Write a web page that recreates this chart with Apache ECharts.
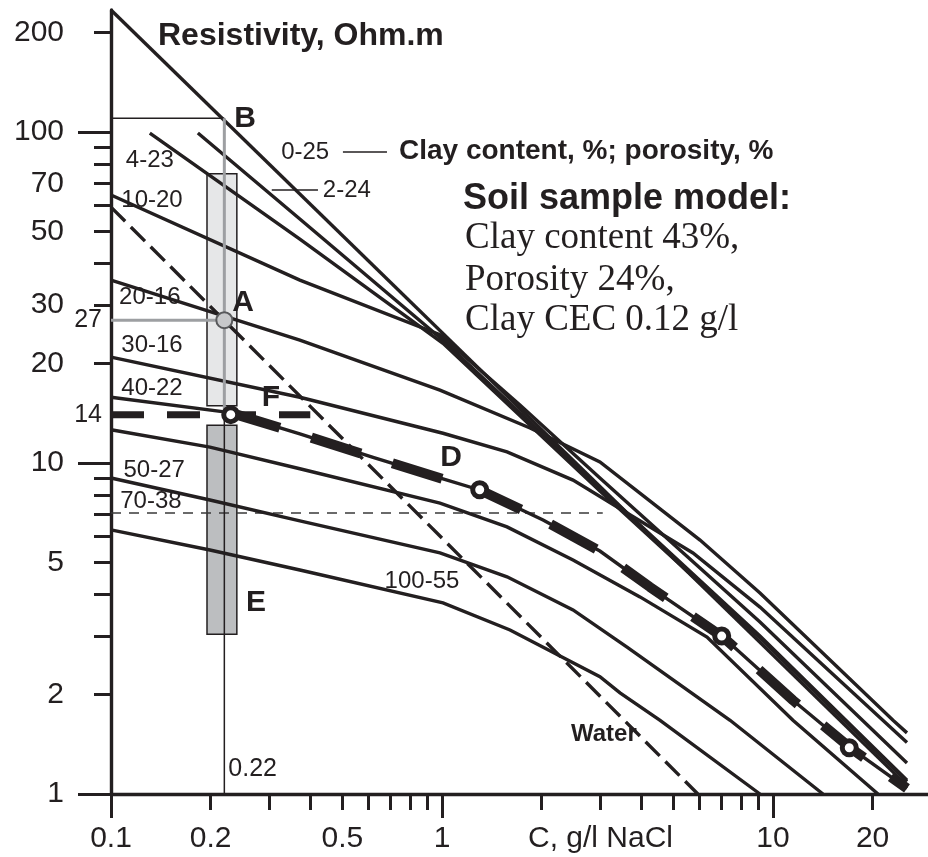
<!DOCTYPE html>
<html><head><meta charset="utf-8">
<script src="https://cdn.jsdelivr.net/npm/echarts@6/dist/echarts.min.js"></script>
<style>html,body{margin:0;padding:0;background:#fff}#c{width:928px;height:857px}</style>
</head><body><div id="c"></div>
<script>
// ---------- axis ticks / labels ----------
const yTickMajor = [1, 10, 100];
const yTickMinor = [2, 3, 4, 5, 6, 7, 8, 9, 20, 30, 40, 50, 60, 70, 80, 90, 200];
const yTickLabels = [1, 2, 5, 10, 20, 30, 50, 70, 100, 200];
const yMarkLabels = [14, 27];
const xTickMajor = [0.1, 1, 10];
const xTickMinor = [0.2, 0.3, 0.4, 0.5, 0.6, 0.7, 0.8, 0.9, 2, 3, 4, 5, 6, 7, 8, 9, 20];
const xTickLabels = [0.1, 0.2, 0.5, 1, 10, 20];

// ---------- curves: [C g/l, Resistivity Ohm.m] ----------
const curve_0_25 = [[0.1, 233.7], [25.4, 1.06]];
const curve_2_24 = [[0.183, 99.3], [0.372, 54.6], [1.007, 23.5], [3.0, 8.40], [9.135, 3.00], [25.4, 1.10]];
const curve_4_23 = [[0.131, 99.3], [0.372, 47.5], [1.007, 23.0], [3.0, 8.23], [9.135, 2.96], [25.4, 1.09]];
const curve_10_20 = [[0.1, 64.5], [0.372, 35.7], [0.986, 24.4], [1.72, 14.97], [3.0, 9.01], [9.135, 3.31], [25.4, 1.24]];
const curve_20_16 = [[0.1, 35.7], [0.372, 23.5], [0.986, 16.6], [1.845, 12.76], [3.0, 10.07], [6.02, 5.85], [9.135, 4.05], [23.05, 1.67], [25.4, 1.53]];
const curve_30_16 = [[0.1, 20.9], [0.372, 15.8], [1.007, 12.3], [1.572, 10.8], [2.488, 8.88], [3.623, 7.06], [5.731, 5.35], [9.135, 3.67], [25.4, 1.43]];
const curve_40_22 = [[0.1, 15.8], [0.229, 14.2], [0.372, 12.24], [0.619, 10.4], [1.007, 8.95], [1.30, 8.29], [2.02, 6.73], [3.0, 5.42], [4.25, 4.22], [7.06, 2.98], [11.49, 1.92], [17.1, 1.38], [25.4, 1.04]];
const curve_50_27 = [[0.1, 12.6], [0.199, 11.17], [0.372, 9.61], [0.986, 7.57], [1.572, 6.41], [2.488, 5.09], [3.964, 3.94], [6.319, 2.98], [11.49, 1.67], [20.76, 1.0]];
const curve_70_38 = [[0.1, 9.01], [0.199, 7.73], [0.372, 6.69], [0.986, 5.35], [1.572, 4.53], [2.488, 3.60], [3.623, 2.78], [7.42, 1.67], [14.16, 1.0]];
const curve_100_55 = [[0.1, 6.28], [0.199, 5.46], [0.372, 4.75], [1.007, 3.78], [1.605, 3.13], [3.0, 2.26], [3.45, 2.02], [4.56, 1.67], [9.135, 1.0]];
const waterLine = [[0.1, 59.3], [5.93, 1.0]];

// soil sample model (thick dashed)
const modelFlat = [[0.1, 14], [0.4, 14]];
const modelCurve = [[0.229, 14.2], [0.372, 12.24], [0.619, 10.4], [1.007, 8.95], [1.30, 8.29], [2.02, 6.73], [3.0, 5.42], [4.25, 4.22], [7.06, 2.98], [11.49, 1.92], [17.1, 1.38], [25.4, 1.04]];
const modelPoints = [[0.23, 14], [1.3, 8.3], [7.0, 3.0], [17.0, 1.38]];
const pointA = [[0.22, 27]];

// construction lines
const lineB = [[0.1, 110], [0.22, 110]];
const lineGrayV = [[0.22, 110], [0.22, 14]];
const lineBlackV = [[0.22, 14], [0.22, 1]];
const lineGrayH = [[0.1, 27], [0.22, 27]];
const line7 = [[0.1, 7.06], [3.06, 7.06]];
const leader0_25 = [[0.502, 87], [0.682, 87]];
const leader2_24 = [[0.306, 66.8], [0.422, 66.8]];

// boxes [C0, R0, C1, R1]
const boxLight = [[0.195, 74.8, 0.24, 14.9]];
const boxDark = [[0.195, 13.0, 0.24, 3.04]];

// labels
const curveLabelText = ['0-25', '2-24', '4-23', '10-20', '20-16', '30-16', '40-22', '50-27', '70-38', '100-55'];
const curveLabelAt = [[0.386, 87.0], [0.516, 66.8], [0.131, 82.3], [0.133, 62.3], [0.131, 31.7], [0.133, 22.7], [0.133, 16.85], [0.135, 9.52], [0.132, 7.68], [0.870, 4.40]];
const letterText = ['A', 'B', 'D', 'E', 'F'];
const letterAt = [[0.2505, 30.4], [0.254, 109.5], [1.065, 10.35], [0.274, 3.78], [0.304, 15.8]];
const waterLabel = {text: 'Water', at: [2.386, 1.51]};
const cLabel = {text: '0.22', at: [0.22, 1.19]};

// ---------- chart ----------
const INK = '#231f20';
const SANS = '"Liberation Sans", Arial, sans-serif';
const SERIF = '"Liberation Serif", "Times New Roman", serif';
const chart = echarts.init(document.getElementById('c'), null, {renderer: 'canvas'});

function logX(extra) {
  return Object.assign({type: 'log', min: 0.1, max: 29.4, position: 'bottom', splitLine: {show: false}, minorTick: {show: false}}, extra);
}
function logY(extra) {
  return Object.assign({type: 'log', min: 1, max: 233.7, position: 'left', splitLine: {show: false}, minorTick: {show: false}}, extra);
}
function solid(data, w, color, z) {
  return {type: 'line', data: data, showSymbol: false, symbol: 'none', silent: true, z: z || 3,
    lineStyle: {color: color || INK, width: w || 3.4, cap: 'butt', join: 'miter', opacity: 1}};
}
function dashed(data, w, dash, color, z) {
  return {type: 'line', data: data, showSymbol: false, symbol: 'none', silent: true, z: z || 4,
    lineStyle: {color: color || INK, width: w, type: dash, cap: 'butt', opacity: 1}};
}
function boxSeries(data, fill) {
  return {type: 'custom', data: data, silent: true, z: 1, encode: {x: [0, 2], y: [1, 3]},
    renderItem: function (params, api) {
      const p0 = api.coord([api.value(0), api.value(1)]);
      const p1 = api.coord([api.value(2), api.value(3)]);
      return {type: 'rect', shape: {x: p0[0], y: p0[1], width: p1[0] - p0[0], height: p1[1] - p0[1]},
        style: {fill: fill, stroke: INK, lineWidth: 1.5}};
    }};
}
function textSeries(names, coords, size, weight, pos) {
  return {type: 'scatter', symbolSize: 0, silent: true, z: 6,
    itemStyle: {opacity: 1},
    data: names.map((n, i) => ({name: n, value: coords[i]})),
    label: {show: true, formatter: '{b}', position: pos || 'inside', distance: 4, color: INK, opacity: 1,
      fontSize: size, fontWeight: weight || 'normal', fontFamily: SANS}};
}

const option = {
  animation: false,
  backgroundColor: '#fff',
  grid: {left: 111, right: 0, top: 10, bottom: 63, containLabel: false, outerBoundsMode: 'none'},
  xAxis: [
    logX({axisLine: {show: true, lineStyle: {color: INK, width: 3.4}},
      axisTick: {show: true, customValues: xTickMajor, length: 24, lineStyle: {color: INK, width: 3}},
      axisLabel: {show: true, customValues: xTickLabels, formatter: v => String(v), fontSize: 30, color: INK,
        fontFamily: SANS, margin: 45, verticalAlign: 'middle'}}),
    logX({axisLine: {show: false},
      axisTick: {show: true, customValues: xTickMinor, length: 16, lineStyle: {color: INK, width: 3}},
      axisLabel: {show: false}})
  ],
  yAxis: [
    logY({axisLine: {show: true, lineStyle: {color: INK, width: 3.4}},
      axisTick: {show: true, customValues: yTickMajor, length: 33, lineStyle: {color: INK, width: 3}},
      axisLabel: {show: true, customValues: yTickLabels, formatter: v => String(v), fontSize: 30, color: INK,
        fontFamily: SANS, margin: 47}}),
    logY({axisLine: {show: false},
      axisTick: {show: true, customValues: yTickMinor, length: 17, lineStyle: {color: INK, width: 3}},
      axisLabel: {show: false}}),
    logY({axisLine: {show: false}, axisTick: {show: false},
      axisLabel: {show: true, customValues: yMarkLabels, formatter: v => String(v), fontSize: 25, color: INK,
        fontFamily: SANS, margin: 9}})
  ],
  series: [
    boxSeries(boxLight, '#e6e7e8'),
    boxSeries(boxDark, '#bcbec0'),
    solid(lineB, 1.5, INK, 2),
    dashed(line7, 1.5, [10, 8], '#3a3a3a', 2),
    solid(curve_0_25), solid(curve_2_24), solid(curve_4_23), solid(curve_10_20), solid(curve_20_16),
    solid(curve_30_16), solid(curve_40_22), solid(curve_50_27), solid(curve_70_38), solid(curve_100_55),
    dashed(waterLine, 3.4, [20, 8], INK, 3),
    solid(lineBlackV, 1.5, INK, 3),
    solid(lineGrayV, 3, '#9d9fa2', 3),
    solid(lineGrayH, 3, '#9d9fa2', 3),
    solid(leader0_25, 1.5), solid(leader2_24, 1.5),
    dashed(modelFlat, 7, [33, 23], INK, 4),
    dashed(modelCurve, 10, [52, 33], INK, 4),
    {type: 'scatter', data: modelPoints, symbol: 'circle', symbolSize: 14, silent: true, z: 5,
      itemStyle: {color: '#fff', borderColor: INK, borderWidth: 5, opacity: 1}},
    {type: 'scatter', data: pointA, symbol: 'circle', symbolSize: 16, silent: true, z: 5,
      itemStyle: {color: '#c7c8ca', borderColor: '#58595b', borderWidth: 2, opacity: 1}},
    textSeries(curveLabelText, curveLabelAt, 24),
    textSeries(letterText, letterAt, 30, 'bold'),
    textSeries([waterLabel.text], [waterLabel.at], 24, 'bold', 'right'),
    textSeries([cLabel.text], [cLabel.at], 25, 'normal', 'right')
  ],
  graphic: [
    {type: 'text', left: 158, top: 20, style: {text: 'Resistivity, Ohm.m', fontSize: 32, fontWeight: 'bold', fontFamily: SANS, fill: INK}},
    {type: 'text', left: 399, top: 137, style: {text: 'Clay content, %; porosity, %', fontSize: 28, fontWeight: 'bold', fontFamily: SANS, fill: INK}},
    {type: 'text', left: 463, top: 181, style: {text: 'Soil sample model:', fontSize: 36, fontWeight: 'bold', fontFamily: SANS, fill: INK}},
    {type: 'text', left: 465, top: 220, style: {text: 'Clay content 43%,', fontSize: 37, fontFamily: SERIF, fill: INK}},
    {type: 'text', left: 465, top: 262, style: {text: 'Porosity 24%,', fontSize: 37, fontFamily: SERIF, fill: INK}},
    {type: 'text', left: 465, top: 302, style: {text: 'Clay CEC 0.12 g/l', fontSize: 37, fontFamily: SERIF, fill: INK}},
    {type: 'text', left: 528, top: 824, style: {text: 'C, g/l NaCl', fontSize: 30, fontFamily: SANS, fill: INK}}
  ]
};
chart.setOption(option);
</script></body></html>
